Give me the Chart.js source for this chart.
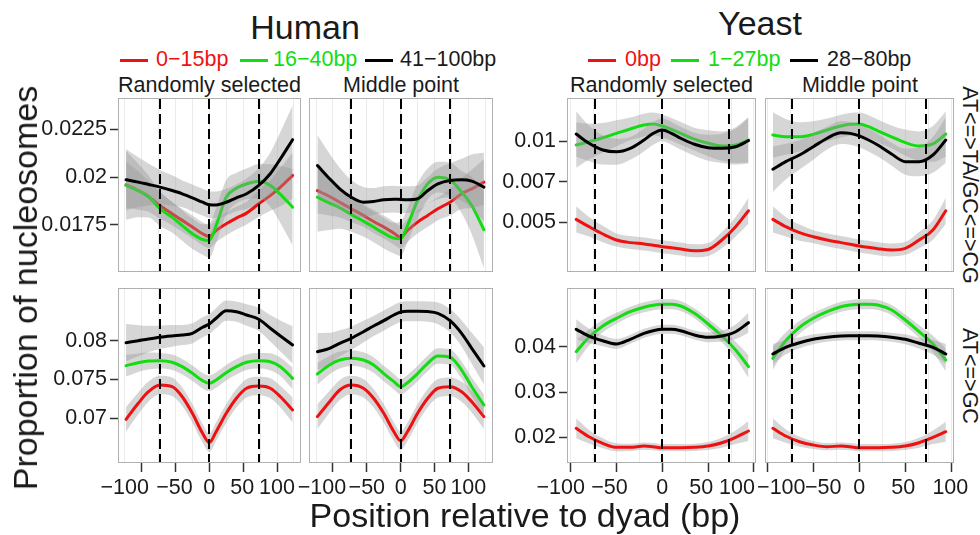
<!DOCTYPE html>
<html><head><meta charset="utf-8">
<script src="https://cdn.jsdelivr.net/npm/chart.js@4.4.1/dist/chart.umd.min.js"></script>
<style>
html,body{margin:0;padding:0;background:#fff;}
#root{position:relative;width:980px;height:535px;overflow:hidden;font-family:'Liberation Sans',Arial,sans-serif;color:#1a1a1a;}
canvas{position:absolute;}
.t{position:absolute;white-space:nowrap;line-height:1;}
.bar{position:absolute;height:3px;width:28px;}
</style></head><body><div id="root"></div>
<script>
// ---------------- DATA ----------------
const humanPos = [-123,-105,-90,-73,-55,-40,-25,-10,0,10,25,40,55,73,90,105,123];
const yeastPos = [-94,-80,-65,-50,-35,-20,-10,0,10,20,35,50,65,80,94];
const dyadMarks = [-73, 0, 73];
const humanGrid = [-125,-100,-75,-50,-25,0,25,50,75,100,125];
const yeastGrid = [-100,-75,-50,-25,0,25,50,75,100];
const xTickValues = [-100,-50,0,50,100];
const xTickLabels = ['\u2212100','\u221250','0','50','100'];
const hTopTicks = [0.0175,0.02,0.0225];
const hTopTickLabels = ['0.0175','0.02','0.0225'];
const hBotTicks = [0.07,0.075,0.08];
const hBotTickLabels = ['0.07','0.075','0.08'];
const yTopTicks = [0.005,0.0075,0.01];
const yTopTickLabels = ['0.005','0.007','0.01'];
const yBotTicks = [0.02,0.03,0.04];
const yBotTickLabels = ['0.02','0.03','0.04'];
const humanGroups = ['0\u221215bp','16\u221240bp','41\u2212100bp'];
const yeastGroups = ['0bp','1\u221227bp','28\u221280bp'];
const methods = ['Randomly selected','Middle point'];
const mutations = ['AT<=>TA/GC<=>CG','AT<=>GC'];

// Human, AT<=>TA/GC<=>CG
const hTopRandRed   = [0.0196,0.0193,0.01899,0.01852,0.01809,0.01774,0.01739,0.01704,0.0169,0.01721,0.01756,0.01786,0.01812,0.01861,0.01904,0.01948,0.02009];
const hTopRandGreen = [0.01957,0.0193,0.01899,0.01835,0.01791,0.01747,0.01704,0.01674,0.01669,0.01747,0.01895,0.01942,0.01965,0.01979,0.01957,0.0191,0.01843];
const hTopRandBlack = [0.01986,0.01974,0.01962,0.01948,0.0193,0.01913,0.01892,0.01869,0.01856,0.01855,0.01869,0.01892,0.01913,0.01957,0.02018,0.02096,0.02196];
const hTopMidRed    = [0.0193,0.01899,0.01869,0.01835,0.018,0.01768,0.01739,0.01707,0.01686,0.01721,0.01765,0.018,0.01835,0.01869,0.01913,0.01939,0.01974];
const hTopMidGreen  = [0.01895,0.01864,0.0184,0.01805,0.0177,0.01739,0.01707,0.01681,0.01678,0.01747,0.01878,0.01965,0.02,0.01986,0.01922,0.01852,0.01725];
const hTopMidBlack  = [0.02061,0.01992,0.01939,0.01895,0.01869,0.01873,0.01882,0.01885,0.01883,0.01882,0.01887,0.0193,0.01965,0.01983,0.01986,0.01979,0.01948];
// Human, AT<=>GC
const hBotRandRed   = [0.06987,0.07193,0.07343,0.07429,0.07407,0.07278,0.07064,0.06807,0.06686,0.06827,0.07064,0.07258,0.07387,0.07416,0.07387,0.07278,0.07107];
const hBotRandGreen = [0.07678,0.07716,0.07738,0.07742,0.07722,0.07665,0.0758,0.07485,0.07451,0.07494,0.07588,0.07665,0.07722,0.07742,0.07729,0.07665,0.07515];
const hBotRandBlack = [0.07974,0.08,0.08022,0.08044,0.08061,0.08073,0.08095,0.08173,0.08215,0.08289,0.08387,0.08374,0.08331,0.08276,0.0816,0.08061,0.07945];
const hBotMidRed    = [0.07021,0.07214,0.07365,0.07429,0.07387,0.07258,0.07064,0.06827,0.06711,0.06827,0.07064,0.07258,0.07387,0.07407,0.07343,0.07214,0.07021];
const hBotMidGreen  = [0.07571,0.07687,0.07751,0.07773,0.07751,0.07687,0.07576,0.07472,0.07407,0.07459,0.07576,0.07709,0.07803,0.07786,0.07622,0.07407,0.07171];
const hBotMidBlack  = [0.07858,0.07902,0.07966,0.08031,0.08116,0.08189,0.08258,0.08331,0.0837,0.08379,0.08379,0.08375,0.08353,0.08258,0.08095,0.07902,0.07674];
// Yeast, AT<=>TA/GC<=>CG
const yTopRandRed   = [0.00518,0.00473,0.00428,0.00391,0.00375,0.00367,0.00359,0.0035,0.00344,0.00336,0.00325,0.00333,0.00391,0.00473,0.00571];
const yTopRandGreen = [0.00975,0.00996,0.0102,0.01047,0.01074,0.01098,0.01105,0.01092,0.01072,0.01047,0.01012,0.00986,0.00969,0.00975,0.01006];
const yTopRandBlack = [0.01043,0.00986,0.00945,0.00934,0.00955,0.01006,0.01047,0.01068,0.01047,0.01017,0.0098,0.00959,0.00955,0.00965,0.01002];
const yTopMidRed    = [0.00518,0.00473,0.00436,0.00411,0.00391,0.00375,0.00365,0.00354,0.00346,0.00338,0.0033,0.0034,0.00391,0.00453,0.00571];
const yTopMidGreen  = [0.01037,0.01026,0.01026,0.01041,0.01068,0.01092,0.01103,0.01105,0.01088,0.01063,0.01026,0.0099,0.00969,0.00982,0.01043];
const yTopMidBlack  = [0.00826,0.00873,0.00914,0.00965,0.01017,0.01051,0.01047,0.01031,0.01006,0.00975,0.0092,0.00873,0.00873,0.00914,0.01006];
// Yeast, AT<=>GC
const yBotRandRed   = [0.022,0.02013,0.01868,0.01779,0.01779,0.01808,0.01792,0.0177,0.0177,0.0177,0.01779,0.01808,0.01881,0.02,0.02139];
const yBotRandGreen = [0.0389,0.04208,0.04457,0.04627,0.04773,0.0487,0.04914,0.04936,0.04936,0.04898,0.04737,0.04501,0.04236,0.03927,0.03559];
const yBotRandBlack = [0.04384,0.04236,0.04132,0.0406,0.04163,0.04296,0.04353,0.04384,0.04384,0.04353,0.04258,0.04208,0.04236,0.04331,0.0453];
const yBotMidRed    = [0.022,0.02029,0.01903,0.0183,0.01792,0.01808,0.01792,0.0177,0.0177,0.0177,0.01779,0.01808,0.01881,0.02,0.02124];
const yBotMidGreen  = [0.03744,0.04132,0.04428,0.04627,0.04773,0.04883,0.04921,0.04936,0.04936,0.04921,0.0481,0.04589,0.04331,0.0406,0.03706];
const yBotMidBlack  = [0.03839,0.03987,0.04088,0.04163,0.04208,0.04236,0.04243,0.04243,0.04243,0.04236,0.04208,0.04163,0.04075,0.03987,0.03839];

// confidence half-widths read from the grey ribbons
const hTopSeRed   = [0.0012,0.0010,0.0008,0.0007,0.0006,0.0006,0.0006,0.0006,0.0006,0.0006,0.0006,0.0006,0.0006,0.0007,0.0008,0.0010,0.0012];
const hTopSeGreen = [0.0018,0.0014,0.0011,0.0009,0.0008,0.0008,0.0008,0.0008,0.0009,0.0009,0.0009,0.0008,0.0008,0.0009,0.0011,0.0015,0.0020];
const hTopSeBlack = [0.0016,0.0013,0.0011,0.0009,0.0008,0.0007,0.0007,0.0007,0.0007,0.0007,0.0007,0.0007,0.0008,0.0009,0.0011,0.0014,0.0018];
const hBotSeRed   = [0.0016,0.0014,0.0013,0.0012,0.0012,0.0012,0.0012,0.0012,0.0012,0.0012,0.0012,0.0012,0.0012,0.0012,0.0013,0.0014,0.0016];
const hBotSeGreen = [0.0014,0.0012,0.0011,0.0010,0.0010,0.0010,0.0010,0.0010,0.0010,0.0010,0.0010,0.0010,0.0010,0.0010,0.0011,0.0012,0.0014];
const hBotSeBlack = [0.0024,0.0020,0.0017,0.0015,0.0014,0.0013,0.0013,0.0013,0.0013,0.0013,0.0013,0.0013,0.0014,0.0015,0.0017,0.0020,0.0024];
const yTopSeRed   = [0.0008,0.0006,0.0005,0.0004,0.0004,0.0004,0.0004,0.0004,0.0004,0.0004,0.0004,0.0004,0.0005,0.0006,0.0008];
const yTopSeGreen = [0.0014,0.0011,0.0009,0.0008,0.0007,0.0007,0.0007,0.0007,0.0007,0.0007,0.0007,0.0008,0.0009,0.0011,0.0014];
const yTopSeBlack = [0.0014,0.0011,0.0009,0.0008,0.0007,0.0007,0.0007,0.0007,0.0007,0.0007,0.0007,0.0008,0.0009,0.0011,0.0014];
const yBotSeRed   = [0.0022,0.0015,0.0011,0.0009,0.0008,0.0008,0.0008,0.0008,0.0008,0.0008,0.0008,0.0009,0.0011,0.0015,0.0022];
const yBotSeGreen = [0.0025,0.0018,0.0014,0.0012,0.0011,0.0011,0.0011,0.0011,0.0011,0.0011,0.0011,0.0012,0.0014,0.0018,0.0025];
const yBotSeBlack = [0.0022,0.0016,0.0012,0.0011,0.0010,0.0010,0.0010,0.0010,0.0010,0.0010,0.0010,0.0011,0.0012,0.0016,0.0022];

// ---------------- STYLE ----------------
const FONT = "'Liberation Sans', Arial, sans-serif";
const RED = '#ee1111', GREEN = '#11dd11', BLACK = '#000000';
const BAND = 'rgba(153,153,153,0.4)';
const TXT = '#1a1a1a';
const root = document.getElementById('root');

function addText(txt, o) {
  const d = document.createElement('div');
  d.className = 't';
  d.textContent = txt;
  d.style.fontSize = o.size + 'px';
  d.style.color = o.color || TXT;
  d.style.left = o.x + 'px';
  d.style.top = o.y + 'px';
  let tr = '';
  if (o.anchor === 'center') tr = 'translate(-50%,-50%)';
  else if (o.anchor === 'top') tr = 'translateX(-50%)';
  if (o.rotate) tr += ' rotate(' + o.rotate + 'deg)';
  d.style.transform = tr;
  root.appendChild(d);
  return d;
}

const deco = {
  id: 'deco',
  beforeDraw(chart) {
    const {ctx, chartArea: a} = chart;
    ctx.save(); ctx.fillStyle = '#fff';
    ctx.fillRect(a.left, a.top, a.right - a.left, a.bottom - a.top); ctx.restore();
  },
  afterDatasetsDraw(chart) {
    const {ctx, chartArea: a} = chart; const x = chart.scales.x;
    ctx.save();
    ctx.beginPath(); ctx.rect(a.left, a.top, a.right - a.left, a.bottom - a.top); ctx.clip();
    ctx.strokeStyle = '#000'; ctx.lineWidth = 2; ctx.setLineDash([10, 5]);
    dyadMarks.forEach(v => {
      const px = Math.round(x.getPixelForValue(v));
      ctx.beginPath(); ctx.moveTo(px, a.top + 1); ctx.lineTo(px, a.bottom); ctx.stroke();
    });
    ctx.restore();
  },
  afterDraw(chart) {
    const {ctx, chartArea: a} = chart;
    ctx.save(); ctx.strokeStyle = '#b0b0b0'; ctx.lineWidth = 1;
    ctx.strokeRect(a.left + 0.5, a.top + 0.5, a.right - a.left - 1, a.bottom - a.top - 1);
    ctx.restore();
  }
};

function panel(c) {
  const cv = document.createElement('canvas');
  const cw = c.w + c.yW, ch = c.h + c.xH;
  cv.width = cw; cv.height = ch;
  cv.style.left = (c.left - c.yW) + 'px'; cv.style.top = c.top + 'px';
  cv.style.width = cw + 'px'; cv.style.height = ch + 'px';
  root.appendChild(cv);
  const seq = [];
  c.series.forEach(s => {
    seq.push({data: c.pos.map((x, i) => ({x, y: s.values[i] - s.se[i]})), borderWidth: 0, borderColor: 'rgba(0,0,0,0)', pointRadius: 0, fill: false});
    seq.push({data: c.pos.map((x, i) => ({x, y: s.values[i] + s.se[i]})), borderWidth: 0, borderColor: 'rgba(0,0,0,0)', pointRadius: 0, fill: '+1', backgroundColor: BAND});
    seq.push({data: c.pos.map((x, i) => ({x, y: s.values[i]})), borderWidth: 3, borderColor: s.color, pointRadius: 0, fill: false, borderCapStyle: 'round', borderJoinStyle: 'round'});
  });
  const datasets = seq.reverse().map(d => Object.assign(d, {cubicInterpolationMode: 'monotone'}));
  const chart = new Chart(cv, {
    type: 'line',
    data: {datasets},
    plugins: [deco],
    options: {
      responsive: false, animation: false, devicePixelRatio: 1, events: [],
      layout: {padding: 0},
      plugins: {legend: {display: false}, tooltip: {enabled: false}},
      scales: {
        x: {
          type: 'linear', min: c.xMin, max: c.xMax, position: 'bottom',
          afterBuildTicks: s => { s.ticks = c.grid.map(v => ({value: v})); },
          ticks: {display: false},
          grid: {color: '#ebebeb', lineWidth: 1, drawTicks: c.xH > 0, tickLength: 9, tickWidth: 1.5,
                 tickColor: ctx => (ctx.tick && xTickValues.includes(ctx.tick.value)) ? '#333' : 'rgba(0,0,0,0)'},
          border: {display: false},
          afterFit: s => { s.height = c.xH; s.paddingLeft = 0; s.paddingRight = 0; s.paddingTop = 0; s.paddingBottom = 0; }
        },
        y: {
          type: 'linear', min: c.yMin, max: c.yMax, position: 'left', display: c.yW > 0,
          afterBuildTicks: s => { s.ticks = c.yTicks.map(v => ({value: v})); },
          ticks: {callback: (v, i) => c.yLabels[i], font: {family: FONT, size: 21.5}, color: TXT, padding: 3},
          grid: {drawOnChartArea: false, drawTicks: true, tickLength: 8, tickWidth: 1.5, tickColor: '#333'},
          border: {display: false},
          afterFit: s => { s.width = c.yW; s.paddingTop = 0; s.paddingBottom = 0; }
        }
      }
    }
  });
  if (c.xH > 0) {
    xTickValues.forEach((v, i) => {
      const px = c.left - c.yW + chart.scales.x.getPixelForValue(v) + c.labelShift[i];
      addText(xTickLabels[i], {x: px, y: 476.8, size: 21.5, anchor: 'top'});
    });
  }
  return chart;
}

const S = (values, se, color) => ({values, se, color});
const TOP = 98, TOPH = 174, BOT = 288, BOTH = 175;
const panels = [
  {left: 118, top: TOP, w: 183, h: TOPH, yW: 80, xH: 0, xMin: -134.9, xMax: 135.4, yMin: 0.01504, yMax: 0.02414, grid: humanGrid, pos: humanPos,
   yTicks: hTopTicks, yLabels: hTopTickLabels,
   series: [S(hTopRandRed, hTopSeRed, RED), S(hTopRandGreen, hTopSeGreen, GREEN), S(hTopRandBlack, hTopSeBlack, BLACK)]},
  {left: 309, top: TOP, w: 184, h: TOPH, yW: 0, xH: 0, xMin: -135.4, xMax: 136.4, yMin: 0.01504, yMax: 0.02414, grid: humanGrid, pos: humanPos,
   yTicks: hTopTicks, yLabels: hTopTickLabels,
   series: [S(hTopMidRed, hTopSeRed, RED), S(hTopMidGreen, hTopSeGreen, GREEN), S(hTopMidBlack, hTopSeBlack, BLACK)]},
  {left: 118, top: BOT, w: 183, h: BOTH, yW: 80, xH: 45, xMin: -134.9, xMax: 135.4, yMin: 0.06424, yMax: 0.08679, grid: humanGrid, pos: humanPos,
   yTicks: hBotTicks, yLabels: hBotTickLabels, labelShift: [-17, -1, 0, -1, 0],
   series: [S(hBotRandRed, hBotSeRed, RED), S(hBotRandGreen, hBotSeGreen, GREEN), S(hBotRandBlack, hBotSeBlack, BLACK)]},
  {left: 309, top: BOT, w: 184, h: BOTH, yW: 0, xH: 45, xMin: -135.4, xMax: 136.4, yMin: 0.06424, yMax: 0.08679, grid: humanGrid, pos: humanPos,
   yTicks: hBotTicks, yLabels: hBotTickLabels, labelShift: [-11, 0, 0, 0, 0],
   series: [S(hBotMidRed, hBotSeRed, RED), S(hBotMidGreen, hBotSeGreen, GREEN), S(hBotMidBlack, hBotSeBlack, BLACK)]},
  {left: 567, top: TOP, w: 189, h: TOPH, yW: 70, xH: 0, xMin: -104, xMax: 102.2, yMin: 0.001943, yMax: 0.012645, grid: yeastGrid, pos: yeastPos,
   yTicks: yTopTicks, yLabels: yTopTickLabels,
   series: [S(yTopRandRed, yTopSeRed, RED), S(yTopRandGreen, yTopSeGreen, GREEN), S(yTopRandBlack, yTopSeBlack, BLACK)]},
  {left: 765, top: TOP, w: 189, h: TOPH, yW: 0, xH: 0, xMin: -102.5, xMax: 102.9, yMin: 0.001943, yMax: 0.012645, grid: yeastGrid, pos: yeastPos,
   yTicks: yTopTicks, yLabels: yTopTickLabels,
   series: [S(yTopMidRed, yTopSeRed, RED), S(yTopMidGreen, yTopSeGreen, GREEN), S(yTopMidBlack, yTopSeBlack, BLACK)]},
  {left: 567, top: BOT, w: 189, h: BOTH, yW: 70, xH: 45, xMin: -104, xMax: 102.2, yMin: 0.01433, yMax: 0.05296, grid: yeastGrid, pos: yeastPos,
   yTicks: yBotTicks, yLabels: yBotTickLabels, labelShift: [-10, -7, 0, -7, -17],
   series: [S(yBotRandRed, yBotSeRed, RED), S(yBotRandGreen, yBotSeGreen, GREEN), S(yBotRandBlack, yBotSeBlack, BLACK)]},
  {left: 765, top: BOT, w: 189, h: BOTH, yW: 0, xH: 45, xMin: -102.5, xMax: 102.9, yMin: 0.01433, yMax: 0.05296, grid: yeastGrid, pos: yeastPos,
   yTicks: yBotTicks, yLabels: yBotTickLabels, labelShift: [14, 10, 0, -2, -1],
   series: [S(yBotMidRed, yBotSeRed, RED), S(yBotMidGreen, yBotSeGreen, GREEN), S(yBotMidBlack, yBotSeBlack, BLACK)]}
];
panels.forEach(panel);

// ---------------- TEXT ----------------
addText('Human', {x: 305, y: 9.5, size: 34, anchor: 'top'});
addText('Yeast', {x: 760, y: 6.2, size: 34, anchor: 'top'});

function legendItem(barX, textX, color, label) {
  const b = document.createElement('div');
  b.className = 'bar'; b.style.left = barX + 'px'; b.style.top = '58.5px'; b.style.background = color;
  root.appendChild(b);
  addText(label, {x: textX, y: 48.5, size: 21.5, color: color === BLACK ? TXT : color});
}
legendItem(120, 156, RED, humanGroups[0]);
legendItem(240, 273, GREEN, humanGroups[1]);
legendItem(365, 400, BLACK, humanGroups[2]);
legendItem(588, 625, RED, yeastGroups[0]);
legendItem(671, 708, GREEN, yeastGroups[1]);
legendItem(790, 827, BLACK, yeastGroups[2]);

addText(methods[0], {x: 209.5, y: 74.5, size: 21.5, anchor: 'top'});
addText(methods[1], {x: 401, y: 74.5, size: 21.5, anchor: 'top'});
addText(methods[0], {x: 661.5, y: 75, size: 21.5, anchor: 'top'});
addText(methods[1], {x: 860, y: 75, size: 21.5, anchor: 'top'});

addText(mutations[0], {x: 969, y: 185, size: 21.5, anchor: 'center', rotate: 90});
addText(mutations[1], {x: 969, y: 375.5, size: 21.5, anchor: 'center', rotate: 90});

addText('Proportion of nucleosomes', {x: 25, y: 288, size: 34, anchor: 'center', rotate: -90});
addText('Position relative to dyad (bp)', {x: 525, y: 498.2, size: 34, anchor: 'top'});
</script></body></html>
